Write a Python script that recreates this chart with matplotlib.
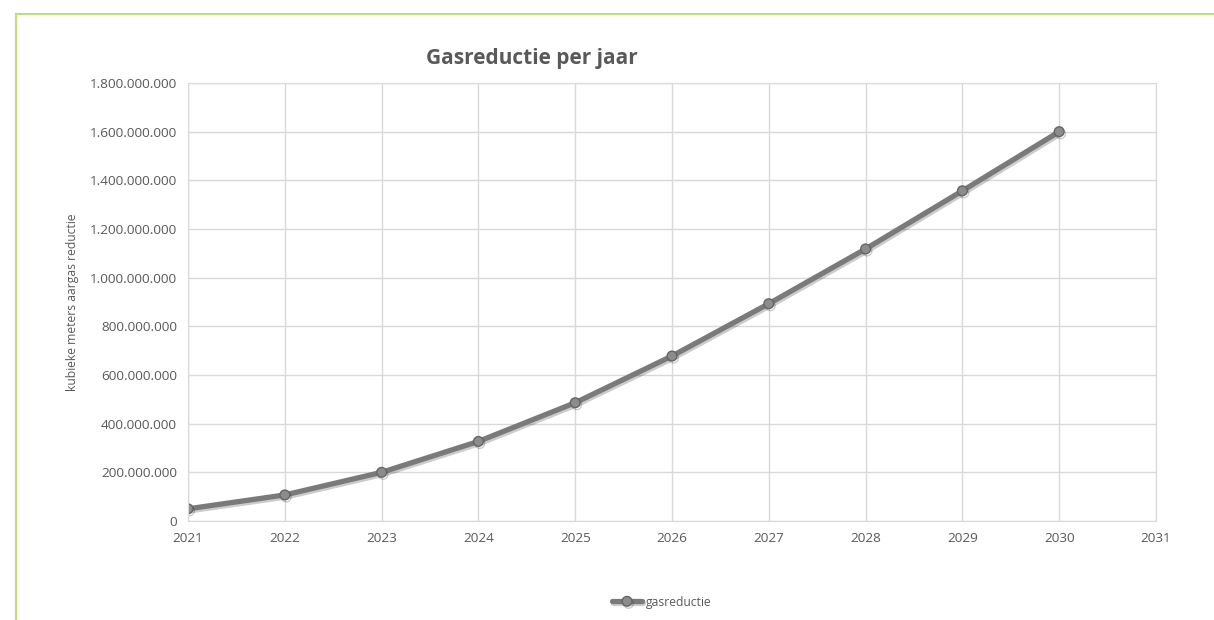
import matplotlib.pyplot as plt
from matplotlib.lines import Line2D
from matplotlib.ticker import FuncFormatter
import matplotlib.patheffects as pe

# gegevens
jaren = [2021, 2022, 2023, 2024, 2025, 2026, 2027, 2028, 2029, 2030]
gasreductie = [50e6, 107e6, 200e6, 327e6, 486e6, 678e6, 893e6, 1118e6, 1357e6, 1600e6]

plt.rcParams['font.family'] = ['Open Sans', 'DejaVu Sans']
grijs = '#595959'

fig = plt.figure(figsize=(12.14, 6.2), dpi=100)
ax = fig.add_axes([0.1549, 0.1597, 0.7973, 0.7064])

# groen kader links en boven
fig.add_artist(Line2D([16 / 1214, 16 / 1214], [0, 606 / 620], color='#c3dc78', lw=1.5))
fig.add_artist(Line2D([16 / 1214, 1], [606 / 620, 606 / 620], color='#c3dc78', lw=1.5))

ax.plot(jaren, gasreductie, color='#7a7a7a', lw=3.8, solid_capstyle='round',
        marker='o', markersize=7, markerfacecolor='#8c8c8c', markeredgecolor='#666666',
        markeredgewidth=1, label='gasreductie',
        path_effects=[pe.SimpleLineShadow(offset=(1, -1.5), alpha=0.2), pe.Normal()])

ax.set_xlim(2021, 2031)
ax.set_ylim(0, 1.8e9)
ax.set_xticks(range(2021, 2032))
ax.set_yticks([i * 2e8 for i in range(10)])
ax.yaxis.set_major_formatter(FuncFormatter(lambda v, p: f'{int(v):,}'.replace(',', '.')))
ax.grid(True, color='#d9d9d9', lw=1)
ax.set_axisbelow(True)
for s in ax.spines.values():
    s.set_color('#d9d9d9')
ax.tick_params(length=0, labelsize=9.7, labelcolor=grijs, pad=8)

ax.set_ylabel('kubieke meters aargas reductie', fontsize=8.7, color=grijs, labelpad=8)
fig.text(0.438, 0.906, 'Gasreductie per jaar', fontsize=15, fontweight='bold',
         color=grijs, ha='center', va='center')

fig.legend(loc='center', bbox_to_anchor=(0.545, 0.029), frameon=False, fontsize=8.7,
           labelcolor=grijs, handlelength=2.5, handletextpad=0.3)

plt.savefig('out.png', dpi=100)
